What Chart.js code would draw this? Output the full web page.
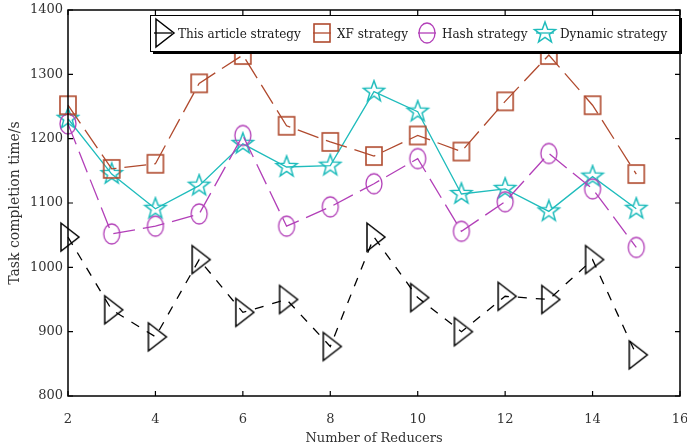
<!DOCTYPE html>
<html>
<head>
<meta charset="utf-8">
<script src="https://cdn.jsdelivr.net/npm/chart.js@4/dist/chart.umd.min.js"></script>
<style>
  body { margin: 0; background: #fff; }
  #wrap { width: 687px; height: 448px; }
</style>
</head>
<body>
<div id="wrap"><canvas id="taskChart" width="687" height="448"></canvas></div>
<script>
// values
const reducers = [2, 3, 4, 5, 6, 7, 8, 9, 10, 11, 12, 13, 14, 15];
const thisArticle = [1047, 934, 892, 1012, 930, 950, 877, 1047, 953, 900, 955, 950, 1012, 864];
const xfStrategy = [1252, 1153, 1161, 1286, 1330, 1220, 1195, 1173, 1205, 1180, 1258, 1330, 1252, 1145];
const hashStrategy = [1223, 1052, 1064, 1083, 1205, 1064, 1094, 1130, 1169, 1056, 1102, 1177, 1122, 1031];
const dynamicStrategy = [1231, 1145, 1091, 1127, 1192, 1156, 1158, 1273, 1242, 1114, 1122, 1087, 1141, 1091];
const seriesNames = ['This article strategy', 'XF strategy', 'Hash strategy', 'Dynamic strategy'];

const FONT = "'DejaVu Serif', 'Liberation Serif', serif";

function makeMarker(w, h, draw) {
  const c = document.createElement('canvas');
  c.width = w; c.height = h;
  const g = c.getContext('2d');
  draw(g, w / 2, h / 2);
  return c;
}

const triMarker = makeMarker(34, 34, (g, cx, cy) => {
  g.strokeStyle = '#000'; g.lineWidth = 1.5;
  g.beginPath();
  g.moveTo(cx - 7, cy - 14);
  g.lineTo(cx + 11, cy);
  g.lineTo(cx - 7, cy + 14);
  g.closePath();
  g.stroke();
});
const squareMarker = makeMarker(22, 24, (g, cx, cy) => {
  g.strokeStyle = '#b04a2e'; g.lineWidth = 1.6;
  g.strokeRect(cx - 8, cy - 9, 16, 18);
});
const circleMarker = makeMarker(22, 26, (g, cx, cy) => {
  g.strokeStyle = '#b23fb8'; g.lineWidth = 1.3;
  g.beginPath();
  g.ellipse(cx, cy, 8, 10, 0, 0, Math.PI * 2);
  g.stroke();
});
const starMarker = makeMarker(26, 26, (g, cx, cy) => {
  g.strokeStyle = '#1fbcbc'; g.lineWidth = 1.5;
  g.beginPath();
  for (let i = 0; i < 10; i++) {
    const r = i % 2 === 0 ? 11 : 4.5;
    const a = -Math.PI / 2 + i * Math.PI / 5;
    const px = cx + r * Math.cos(a), py = cy + r * Math.sin(a);
    if (i === 0) g.moveTo(px, py); else g.lineTo(px, py);
  }
  g.closePath();
  g.stroke();
});

function pairs(ys) {
  return reducers.map((x, i) => ({ x: x, y: ys[i] }));
}

// box around the plot with inward ticks
const framePlugin = {
  id: 'frame',
  afterDatasetsDraw(chart) {
    const { ctx, chartArea: a, scales } = chart;
    ctx.save();
    ctx.strokeStyle = '#000';
    ctx.lineWidth = 1.5;
    ctx.strokeRect(a.left, a.top, a.right - a.left, a.bottom - a.top);
    ctx.lineWidth = 1.2;
    ctx.beginPath();
    scales.x.ticks.forEach(t => {
      const px = scales.x.getPixelForValue(t.value);
      ctx.moveTo(px, a.bottom); ctx.lineTo(px, a.bottom - 5);
      ctx.moveTo(px, a.top); ctx.lineTo(px, a.top + 5);
    });
    scales.y.ticks.forEach(t => {
      const py = scales.y.getPixelForValue(t.value);
      ctx.moveTo(a.left, py); ctx.lineTo(a.left + 5, py);
      ctx.moveTo(a.right, py); ctx.lineTo(a.right - 5, py);
    });
    ctx.stroke();
    ctx.restore();
  }
};

// boxed legend sitting inside the top of the plot
const legendPlugin = {
  id: 'boxLegend',
  afterDraw(chart) {
    const ctx = chart.ctx;
    const markers = [triMarker, squareMarker, circleMarker, starMarker];
    const colors = ['#000', '#b04a2e', '#b23fb8', '#1fbcbc'];
    const markX = [163, 322, 427, 545];
    const top = 15, bottom = 51, left = 150, right = 679;
    const cy = (top + bottom) / 2;
    ctx.save();
    ctx.fillStyle = '#fff';
    ctx.fillRect(left, top, right - left, bottom - top);
    ctx.strokeStyle = '#000';
    ctx.lineWidth = 1;
    ctx.strokeRect(left + 0.5, top + 0.5, right - left, bottom - top);
    ctx.lineWidth = 2;
    ctx.beginPath();
    ctx.moveTo(left + 3, bottom + 2); ctx.lineTo(right + 2, bottom + 2); ctx.lineTo(right + 2, top + 3);
    ctx.stroke();
    ctx.font = '12px ' + FONT;
    ctx.textBaseline = 'middle';
    seriesNames.forEach((name, i) => {
      const mx = markX[i];
      ctx.strokeStyle = colors[i];
      ctx.lineWidth = 1.3;
      ctx.beginPath();
      ctx.moveTo(mx - 9, cy); ctx.lineTo(mx + 9, cy);
      ctx.stroke();
      const m = markers[i];
      ctx.drawImage(m, mx - m.width / 2, cy - m.height / 2);
      ctx.fillStyle = '#1a1a1a';
      ctx.fillText(name, mx + 15, cy + 2);
    });
    ctx.restore();
  }
};

const ctx = document.getElementById('taskChart').getContext('2d');

new Chart(ctx, {
  type: 'line',
  data: {
    datasets: [{
      label: seriesNames[0],
      data: pairs(thisArticle),
      borderColor: '#000',
      borderWidth: 1.3,
      borderDash: [9, 9],
      pointStyle: triMarker,
      clip: false,
      fill: false
    }, {
      label: seriesNames[1],
      data: pairs(xfStrategy),
      borderColor: '#b04a2e',
      borderWidth: 1.3,
      borderDash: [22, 8],
      pointStyle: squareMarker,
      clip: false,
      fill: false
    }, {
      label: seriesNames[2],
      data: pairs(hashStrategy),
      borderColor: '#b23fb8',
      borderWidth: 1.3,
      borderDash: [22, 8],
      pointStyle: circleMarker,
      clip: false,
      fill: false
    }, {
      label: seriesNames[3],
      data: pairs(dynamicStrategy),
      borderColor: '#1fbcbc',
      borderWidth: 1.3,
      pointStyle: starMarker,
      clip: false,
      fill: false
    }]
  },
  options: {
    responsive: false,
    animation: false,
    devicePixelRatio: 1,
    events: [],
    tension: 0,
    layout: { padding: { top: 10, right: 7, left: 0, bottom: 0 } },
    plugins: {
      legend: { display: false },
      tooltip: { enabled: false }
    },
    scales: {
      x: {
        type: 'linear',
        min: 2,
        max: 16,
        grid: { display: false, drawTicks: false },
        border: { display: false },
        ticks: {
          stepSize: 2, padding: 16, color: '#333',
          font: { family: FONT, size: 13 },
          callback: v => String(v)
        },
        title: {
          display: true,
          text: 'Number of Reducers',
          color: '#333',
          padding: { top: 0, bottom: 2 },
          font: { family: FONT, size: 13 }
        },
        afterFit(scale) {
          scale.height = 52;
          scale.paddingLeft = 0;
          scale.paddingRight = 0;
        }
      },
      y: {
        min: 800,
        max: 1400,
        grid: { display: false, drawTicks: false },
        border: { display: false },
        ticks: {
          stepSize: 100, padding: 5, color: '#333',
          font: { family: FONT, size: 13 },
          callback: v => String(v)
        },
        title: {
          display: true,
          text: 'Task completion time/s',
          color: '#333',
          padding: { top: 7, bottom: 0 },
          font: { family: FONT, size: 14 }
        },
        afterFit(scale) {
          scale.width = 68;
          scale.paddingTop = 0;
          scale.paddingBottom = 0;
        }
      }
    }
  },
  plugins: [framePlugin, legendPlugin]
});
</script>
</body>
</html>
